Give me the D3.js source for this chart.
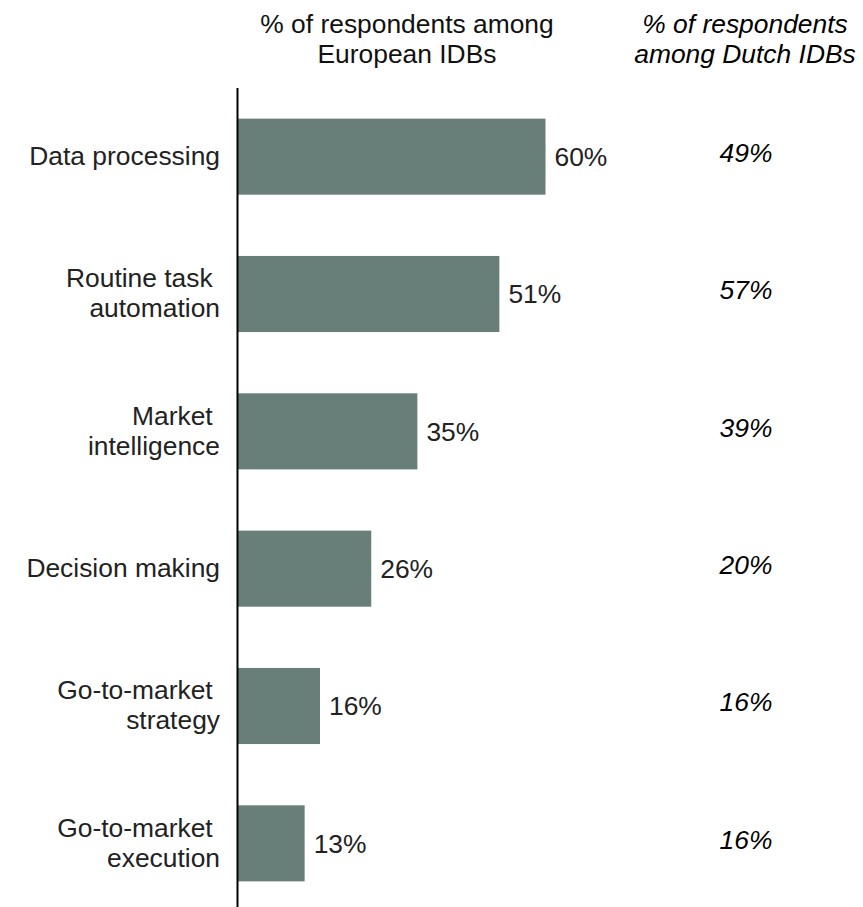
<!DOCTYPE html>
<html>
<head>
<meta charset="utf-8">
<script src="https://cdn.jsdelivr.net/npm/d3@7"></script>
<style>
  html, body { margin: 0; padding: 0; background: #fff; }
  svg { display: block; font-family: "Liberation Sans", Arial, sans-serif; }
  .pre { white-space: pre; }
</style>
</head>
<body>
<svg id="chart" width="863" height="907"></svg>
<script>
// AI use cases: share of respondents
const categories = [
  ["Data processing"],
  ["Routine task ", "automation"],
  ["Market ", "intelligence"],
  ["Decision making"],
  ["Go-to-market ", "strategy"],
  ["Go-to-market ", "execution"]
];
const europeanValues = [60, 51, 35, 26, 16, 13];
const dutchValues = [49, 57, 39, 20, 16, 16];
const europeanHeader = ["% of respondents among", "European IDBs"];
const dutchHeader = ["% of respondents", "among Dutch IDBs"];

const svg = d3.select("#chart");
const keys = categories.map((c, i) => i);

const x = d3.scaleLinear().domain([0, 60]).range([238, 545.5]);
const y = d3.scaleBand().domain(keys).range([88, 912])
  .paddingInner(0.446).paddingOuter(0.223);

const fontSize = 26.4;
const lineH = 30;
const capShift = 9.3;

// headers
svg.append("text")
  .attr("x", 407).attr("y", 33)
  .attr("text-anchor", "middle")
  .attr("font-size", fontSize).attr("fill", "#111")
  .selectAll("tspan").data(europeanHeader).join("tspan")
  .attr("x", 407).attr("dy", (d, i) => i ? lineH : 0)
  .text(d => d);

svg.append("text")
  .attr("x", 745).attr("y", 33)
  .attr("text-anchor", "middle")
  .attr("font-size", fontSize).attr("font-style", "italic").attr("fill", "#000")
  .selectAll("tspan").data(dutchHeader).join("tspan")
  .attr("x", 745).attr("dy", (d, i) => i ? lineH : 0)
  .text(d => d);

// bars
svg.append("g").selectAll("rect").data(keys).join("rect")
  .attr("x", x(0))
  .attr("y", i => y(i))
  .attr("width", i => x(europeanValues[i]) - x(0))
  .attr("height", y.bandwidth())
  .attr("fill", "#687f79");

// axis line
svg.append("line")
  .attr("x1", 237.5).attr("x2", 237.5)
  .attr("y1", 88).attr("y2", 912)
  .attr("stroke", "#000").attr("stroke-width", 2);

// category labels
const cy = i => y(i) + y.bandwidth() / 2;
svg.append("g").selectAll("text").data(keys).join("text")
  .attr("class", "pre")
  .attr("text-anchor", "end")
  .attr("font-size", fontSize).attr("fill", "#222")
  .each(function (i) {
    const lines = categories[i];
    const y0 = cy(i) + capShift - 1 - (lines.length - 1) * lineH / 2;
    d3.select(this).selectAll("tspan").data(lines).join("tspan")
      .attr("x", 220)
      .attr("y", (d, k) => y0 + k * lineH)
      .text(d => d);
  });

// European value labels
svg.append("g").selectAll("text").data(keys).join("text")
  .attr("x", i => x(europeanValues[i]) + 9)
  .attr("y", i => cy(i) + capShift)
  .attr("font-size", fontSize).attr("fill", "#222")
  .text(i => europeanValues[i] + "%");

// Dutch value labels
svg.append("g").selectAll("text").data(keys).join("text")
  .attr("x", 746)
  .attr("y", i => cy(i) + capShift - 4)
  .attr("text-anchor", "middle")
  .attr("font-size", fontSize).attr("font-style", "italic").attr("fill", "#000")
  .text(i => dutchValues[i] + "%");
</script>
</body>
</html>
